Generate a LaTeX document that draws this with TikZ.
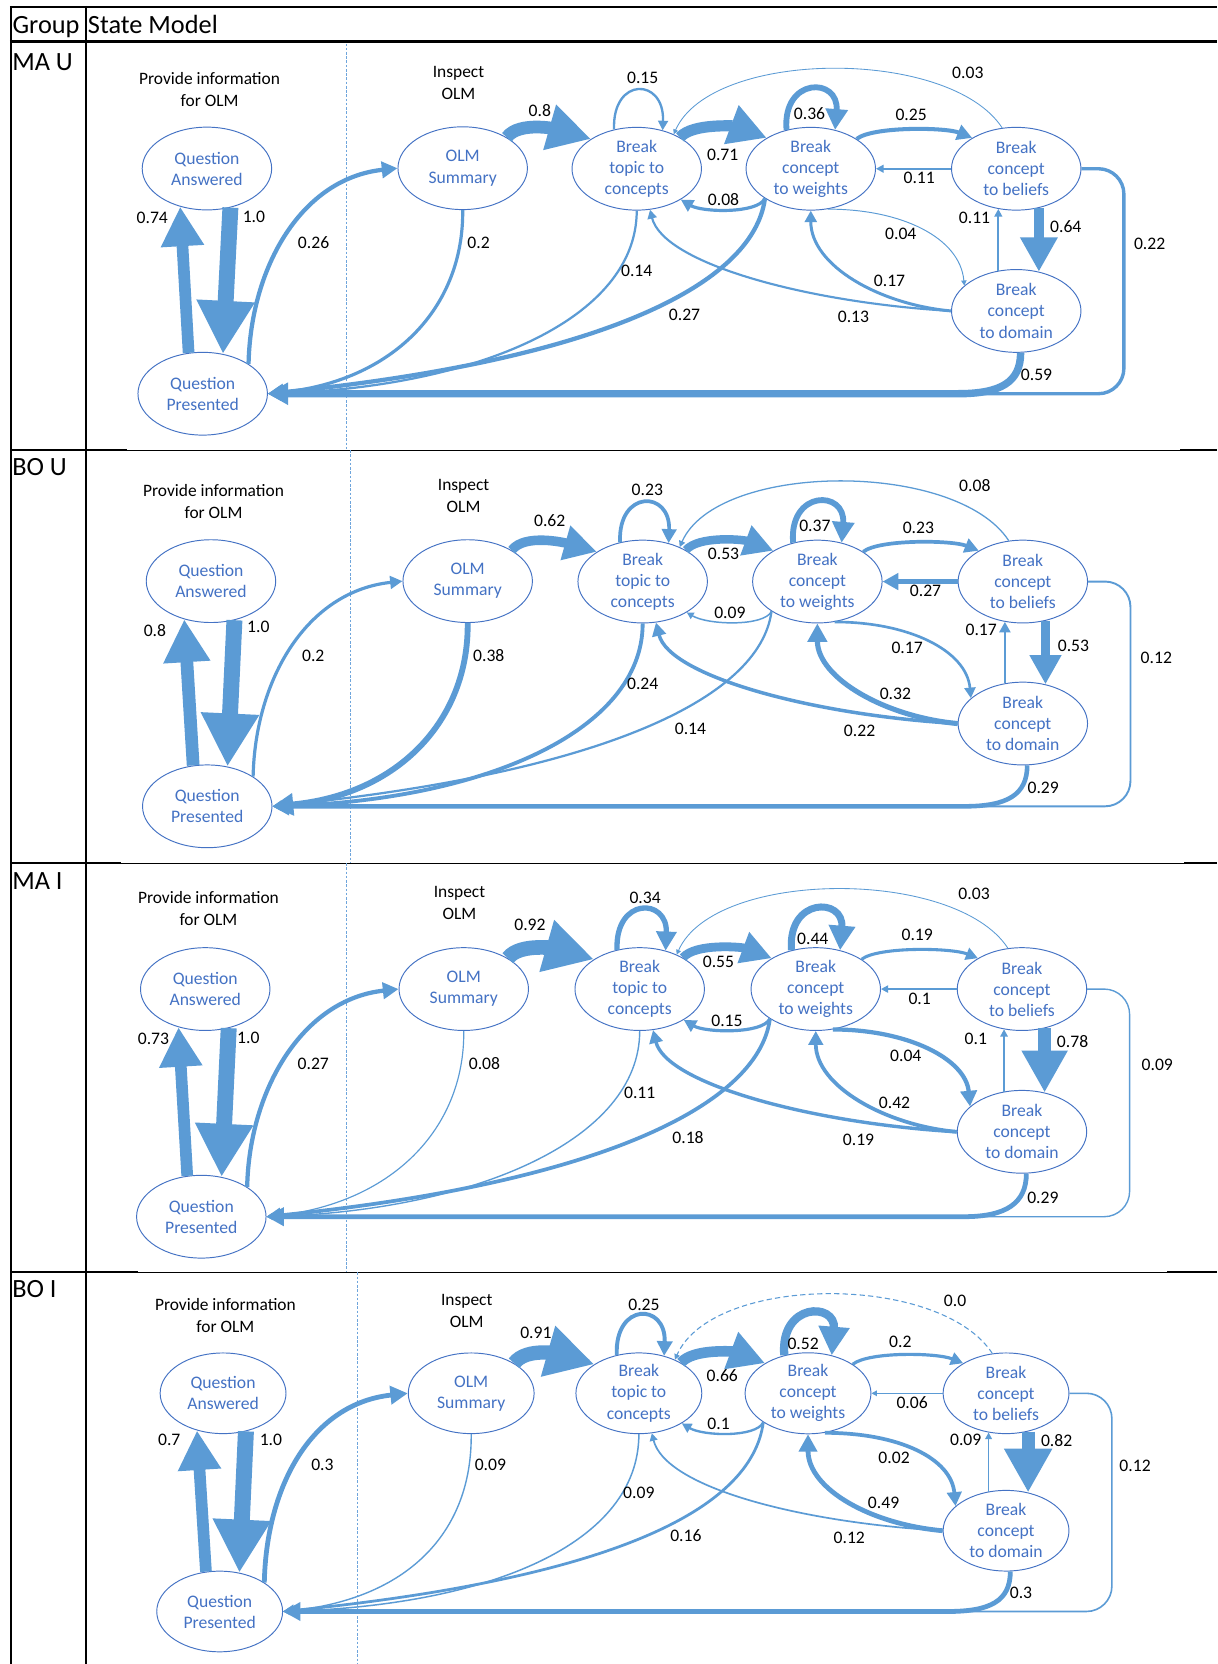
\documentclass[tikz,border=0pt]{standalone}
\usepackage{fontspec}
\setmainfont{Carlito}
\usetikzlibrary{arrows.meta,shapes.geometric,calc}

\definecolor{edgeblue}{RGB}{91,155,213}
\definecolor{stateblue}{RGB}{68,114,196}
\definecolor{guideblue}{RGB}{110,165,220}

\tikzset{
  state/.style={ellipse, draw=stateblue, line width=0.45pt, text=stateblue,
    minimum width=61pt, minimum height=39pt, inner sep=0pt, align=center,
    font=\fontsize{8.3}{9.9}\selectfont},
  smallstate/.style={state, minimum width=59.3pt, minimum height=38pt},
  prob/.style={inner sep=0pt, font=\fontsize{8.3}{10}\selectfont},
  phase/.style={inner sep=0pt, align=center, font=\fontsize{8.2}{10.3}\selectfont},
  rowname/.style={anchor=base west, inner sep=0pt, font=\fontsize{12.4}{14}\selectfont},
  ew/.style={draw=edgeblue, line width=#1*0.5pt,
    -{Triangle[length=1pt 3.2,width=1pt 3.3]}},
  guide/.style={draw=guideblue, line width=0.5pt, dash pattern=on 1.2pt off 0.8pt},
}

% transitions of one state model; #1 is the prefix of its node names
\newcommand{\smedges}[1]{%
  \draw[e2] (#1qp.109) -- (#1qa.-125);
  \draw[e1] (#1qa.-59) -- (#1qp.63);
  \draw[e3] (#1qp.33) .. controls +(2,-92) and +(-90,9.5) .. (#1olm.west);
  \draw[e4] (#1olm.south) .. controls +(1,92) and +(118,-11) .. (#1qp.east);
  \draw[e5] (#1olm.35) .. controls +(12,-16) and +(-30,-8.5) .. (#1btc.147);
  \draw[e6] (#1btc.120) .. controls +(-2,-50) and +(2,-50) .. (#1btc.56);
  \draw[e7] (#1btc.36) .. controls +(12,-14) and +(-28,-10.5) .. (#1bcw.145);
  \draw[e8] (#1bcw.-147) .. controls +(-7,14.5) and +(20,12) .. (#1btc.-35);
  \draw[e9] (#1bcw.122) .. controls +(-4,-50) and +(4,-50) .. (#1bcw.58);
  \draw[e10] (#1bcw.33) .. controls +(15,-12) and +(-25,-10) .. (#1bcb.145);
  \draw[e11] (#1bcb.west) -- (#1bcw.east);
  \draw[e12] (#1bcb.109) .. controls +(-49.5,-76) and +(35.6,-80.6) .. (#1btc.43);
  \draw[e13] (#1bcb.-60) -- (#1bcd.60);
  \draw[e14] (#1bcd.114) -- (#1bcb.-114);
  \draw[e15] (#1bcw.-67) .. controls +(70,0) and +(-4,-45) .. (#1bcd.154);
  \draw[e16] (#1bcd.west) .. controls +(-67,-6) and +(0,52) .. (#1bcw.south);
  \draw[e17] (#1bcd.west) .. controls +(-137,-8) and +(12.4,50.5) .. (#1btc.-72);
  \draw[e18] (#1btc.south) .. controls +(0,102) and +(198,-6) .. (#1qp.east);
  \draw[e19] (#1bcw.-147) .. controls +(-11,83) and +(308,-31) .. (#1qp.east);
  \draw[e21, rounded corners=12pt] (#1bcb.east) -| ($(#1qp.east -| #1bcb.east)+(40,0)$) -- (#1qp.east);
  \draw[e20] (#1bcd.-84) .. controls +(0,28) and +(40,0) .. ($(#1qp.east -| #1bcd.south)+(-55,0)$) -- (#1qp.east);
}

\begin{document}
\begin{tikzpicture}[x=0.5pt,y=-0.5pt]
\fill[white] (0,0) rectangle (1147,1568);
\useasboundingbox (0,0) rectangle (1147,1568);

% table rules
\draw[line width=0.8pt] (9.2,6.3) -- (1147,6.3);
\draw[line width=1.55pt] (9.2,39.3) -- (1147,39.3);
\foreach \y/\l/\r in {424.1/119.4/1112, 813.4/113.7/1116, 1198.9/130.4/1100} {
  \draw[line width=0.5pt] (10,\y) -- (1147,\y);
  \draw[line width=0.9pt] (10,\y) -- (\l,\y);
  \draw[line width=0.9pt] (\r,\y) -- (1147,\y);
}
\draw[line width=1.25pt] (10.4,5.5) -- (10.4,1568);
\draw[line width=1.1pt] (81,5.5) -- (81,1568);

\node[rowname] (hgroup) at (11.5,31.4) {Group};
\node[rowname] (hmodel) at (82.5,31.4) {State Model};
\node[rowname] (rowA) at (11.2,66) {MA U};
\node[rowname] (rowB) at (11.2,447.7) {BO U};
\node[rowname] (rowC) at (11.2,838.2) {MA I};
\node[rowname] (rowD) at (11.2,1222.7) {BO I};

% ---------------- MA U ----------------
\begin{scope}[e1/.style={ew=15}, e2/.style={ew=11}, e3/.style={ew=4}, e4/.style={ew=3},
  e5/.style={ew=12}, e6/.style={ew=2.2}, e7/.style={ew=10.5}, e8/.style={ew=3},
  e9/.style={ew=5.5}, e10/.style={ew=3.8}, e11/.style={ew=1.6}, e12/.style={ew=0.8},
  e13/.style={ew=9.5}, e14/.style={ew=1.6}, e15/.style={ew=0.9}, e16/.style={ew=2.8},
  e17/.style={ew=2}, e18/.style={ew=2.1}, e19/.style={ew=4},
  e20/.style={ew=7, -{Triangle[length=9.5pt,width=10pt]}}, e21/.style={ew=3.2}]
\draw[guide] (326.5,41) -- (326.5,424.1);
\node[phase] (Aprov) at (197.5,84) {Provide information\\for OLM};
\node[phase] (Ainsp) at (432,78.5) {Inspect\\OLM};
\node[state] (Aqa) at (195,158.8) {Question\\Answered};
\node[state] (Aqp) at (191,371) {Question\\Presented};
\node[state] (Aolm) at (436,158.5) {OLM\\Summary};
\node[state] (Abtc) at (600,159) {Break\\topic to\\concepts};
\node[state] (Abcw) at (764,159) {Break\\concept\\to weights};
\node[state] (Abcb) at (957.6,159) {Break\\concept\\to beliefs};
\node[state] (Abcd) at (957.6,293) {Break\\concept\\to domain};
\smedges{A}
\foreach \t/\x/\y [count=\i] in {0.74/143.5/205, 1.0/239.3/204.2, 0.26/295.5/228.7,
  0.2/451/228.7, 0.8/508.7/104.6, 0.15/605.6/72.9, 0.71/681/145.5, 0.08/681.8/187.9,
  0.36/762.8/106.8, 0.25/858.6/108.4, 0.11/866.2/167.5, 0.03/912/69, 0.11/918.3/205.2,
  0.64/1004.3/213.6, 0.04/848.8/220.8, 0.17/838.2/264.5, 0.14/600/255, 0.27/645/296.9,
  0.13/804.2/299, 0.59/976.7/352.8, 0.22/1083.3/230}
  \node[prob] (Ap\i) at (\x,\y) {\t};
\end{scope}

% ---------------- BO U ----------------
\begin{scope}[e1/.style={ew=15}, e2/.style={ew=12}, e3/.style={ew=3}, e4/.style={ew=5.5},
  e5/.style={ew=9}, e6/.style={ew=3.5}, e7/.style={ew=8}, e8/.style={ew=1.4},
  e9/.style={ew=5.5}, e10/.style={ew=3.5}, e11/.style={ew=4}, e12/.style={ew=1.2},
  e13/.style={ew=8}, e14/.style={ew=2.5}, e15/.style={ew=2.5}, e16/.style={ew=4.8},
  e17/.style={ew=3.3}, e18/.style={ew=3.6}, e19/.style={ew=2.1},
  e20/.style={ew=4.3}, e21/.style={ew=1.8}]
\draw[guide] (330.2,424.1) -- (330.2,813.4);
\node[phase] (Bprov) at (201.2,472.5) {Provide information\\for OLM};
\node[phase] (Binsp) at (436.8,467) {Inspect\\OLM};
\node[state] (Bqa) at (198.8,547.6) {Question\\Answered};
\node[state] (Bqp) at (195.3,759.8) {Question\\Presented};
\node[state] (Bolm) at (440.7,547.6) {OLM\\Summary};
\node[state] (Bbtc) at (605.6,548) {Break\\topic to\\concepts};
\node[state] (Bbcw) at (770.2,548) {Break\\concept\\to weights};
\node[state] (Bbcb) at (963.8,548) {Break\\concept\\to beliefs};
\node[state] (Bbcd) at (963.8,681.8) {Break\\concept\\to domain};
\smedges{B}
\foreach \t/\x/\y [count=\i] in {0.8/146/594, 1.0/243.4/590.6, 0.2/295.2/618,
  0.38/460.6/618, 0.62/518/490.7, 0.23/610/461.2, 0.53/681.8/521.5, 0.09/687.8/577.4,
  0.37/767.9/495.8, 0.23/865.4/497.3, 0.27/872.1/557, 0.08/918.6/458, 0.17/924.6/593.8,
  0.53/1011.5/608.6, 0.17/854.8/610, 0.32/843.7/654, 0.24/605.6/644.7, 0.14/650.6/686.4,
  0.22/810/688.7, 0.29/983/742.4, 0.12/1089.6/619.5}
  \node[prob] (Bp\i) at (\x,\y) {\t};
\end{scope}

% ---------------- MA I ----------------
\begin{scope}[e1/.style={ew=15}, e2/.style={ew=11}, e3/.style={ew=4}, e4/.style={ew=1.1},
  e5/.style={ew=13.8}, e6/.style={ew=5}, e7/.style={ew=8.3}, e8/.style={ew=3},
  e9/.style={ew=6.6}, e10/.style={ew=2.9}, e11/.style={ew=1.5}, e12/.style={ew=0.8},
  e13/.style={ew=11.7}, e14/.style={ew=1.5}, e15/.style={ew=4}, e16/.style={ew=3.5},
  e17/.style={ew=3.2}, e18/.style={ew=1.3}, e19/.style={ew=3.5},
  e20/.style={ew=4.5}, e21/.style={ew=1.3}]
\draw[guide] (326.5,813.4) -- (326.5,1198.9);
\node[phase] (Cprov) at (196.4,856) {Provide information\\for OLM};
\node[phase] (Cinsp) at (433,851) {Inspect\\OLM};
\node[state] (Cqa) at (193.4,932) {Question\\Answered};
\node[state] (Cqp) at (189.7,1146.5) {Question\\Presented};
\node[state] (Colm) at (437,932) {OLM\\Summary};
\node[state] (Cbtc) at (602.8,932) {Break\\topic to\\concepts};
\node[state] (Cbcw) at (768.7,932) {Break\\concept\\to weights};
\node[state] (Cbcb) at (963,932) {Break\\concept\\to beliefs};
\node[state] (Cbcd) at (963,1066.5) {Break\\concept\\to domain};
\smedges{C}
\foreach \t/\x/\y [count=\i] in {0.73/144.6/978.6, 1.0/234/977.7, 0.27/295.2/1002.2,
  0.08/456.5/1002.2, 0.92/499.4/871.8, 0.34/607.9/845.7, 0.55/677/906.4, 0.15/685/962,
  0.44/765.9/885, 0.19/864.3/881.2, 0.1/866.6/941.6, 0.03/917.9/842, 0.1/919.5/978.6,
  0.78/1010.7/981.8, 0.04/853.5/995.3, 0.42/842.9/1039.3, 0.11/602.8/1029.9,
  0.18/648.3/1071.9, 0.19/809/1073.8, 0.29/982.7/1128.5, 0.09/1090.5/1003.8}
  \node[prob] (Cp\i) at (\x,\y) {\t};
\end{scope}

% ---------------- BO I ----------------
\begin{scope}[e1/.style={ew=15}, e2/.style={ew=11}, e3/.style={ew=4.5}, e4/.style={ew=1.3},
  e5/.style={ew=13.5}, e6/.style={ew=3.7}, e7/.style={ew=10}, e8/.style={ew=2.2},
  e9/.style={ew=7.8}, e10/.style={ew=3}, e11/.style={ew=1}, 
  e12/.style={ew=1, dash pattern=on 2.5pt off 1.5pt},
  e13/.style={ew=12.3}, e14/.style={ew=1.3}, e15/.style={ew=3.5}, e16/.style={ew=4.5},
  e17/.style={ew=1.6}, e18/.style={ew=1.4}, e19/.style={ew=2.6},
  e20/.style={ew=4.5}, e21/.style={ew=1.5}]
\draw[guide] (337.3,1198.9) -- (337.3,1568);
\node[phase] (Dprov) at (212.4,1239.5) {Provide information\\for OLM};
\node[phase] (Dinsp) at (439.8,1235) {Inspect\\OLM};
\node[smallstate] (Dqa) at (210.2,1312.9) {Question\\Answered};
\node[smallstate] (Dqp) at (207,1518.5) {Question\\Presented};
\node[smallstate] (Dolm) at (444,1312.9) {OLM\\Summary};
\node[smallstate] (Dbtc) at (602,1312.9) {Break\\topic to\\concepts};
\node[smallstate] (Dbcw) at (761.4,1312.9) {Break\\concept\\to weights};
\node[smallstate] (Dbcb) at (948,1312.9) {Break\\concept\\to beliefs};
\node[smallstate] (Dbcd) at (948,1442.4) {Break\\concept\\to domain};
\smedges{D}
\foreach \t/\x/\y [count=\i] in {0.7/159.5/1357.2, 1.0/255.3/1356.3, 0.3/303.8/1380.1,
  0.09/462.1/1380.1, 0.91/505/1256, 0.25/606.8/1229.3, 0.66/680.6/1296.6, 0.1/677.1/1341.5,
  0.52/756.8/1266.1, 0.2/848.4/1264.5, 0.06/859.5/1322, 0.0/900/1226.2, 0.09/910/1357.2,
  0.82/995.7/1357.2, 0.02/842.5/1373.6, 0.49/832.6/1416, 0.09/602/1406.5,
  0.16/646.3/1447.4, 0.12/800.3/1449, 0.3/962.1/1501.1, 0.12/1069.6/1381.7}
  \node[prob] (Dp\i) at (\x,\y) {\t};
\end{scope}
\end{tikzpicture}
\end{document}
